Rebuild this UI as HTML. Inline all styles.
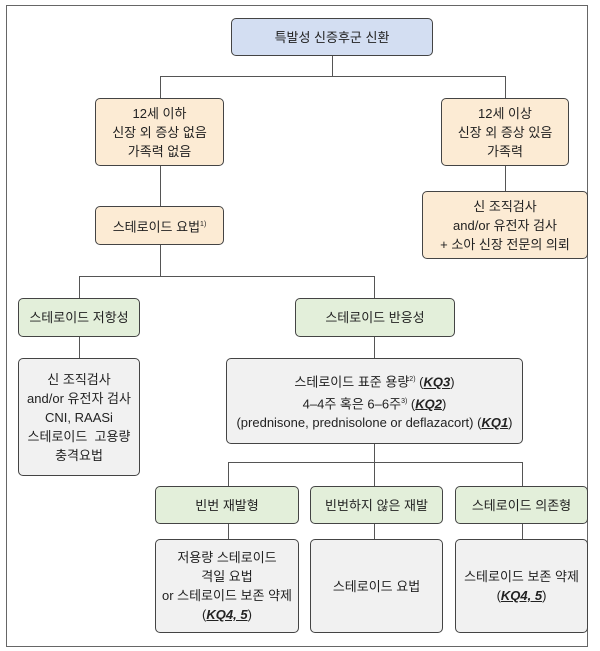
<!DOCTYPE html>
<html><head><meta charset="utf-8"><style>
body{margin:0;width:600px;height:651px;background:#fff;position:relative;font-family:"Liberation Sans","Noto Sans CJK KR",sans-serif;font-size:13px;color:#222}
.b{position:absolute;box-sizing:border-box;border:1.3px solid #444;border-radius:5px;display:flex;align-items:center;justify-content:center;text-align:center;line-height:19px}
.b>div{display:block}
.bl{background:#d3def2}.o{background:#fcebd4}.g{background:#e3efda}.y{background:#f1f1f1}
.h{position:absolute;height:1.3px;background:#555}.v{position:absolute;width:1.3px;background:#555}
u{font-style:italic;font-weight:bold}sup{font-size:7px}
</style></head><body>
<div style="position:absolute;left:6px;top:5px;width:582px;height:642px;border:1px solid #666;box-sizing:border-box"></div>
<div class="v" style="left:332px;top:56px;height:20px"></div>
<div class="h" style="left:160px;top:76px;width:346px"></div>
<div class="v" style="left:160px;top:76px;height:22px"></div>
<div class="v" style="left:505px;top:76px;height:22px"></div>
<div class="v" style="left:160px;top:166px;height:40px"></div>
<div class="v" style="left:505px;top:166px;height:25px"></div>
<div class="v" style="left:160px;top:245px;height:31px"></div>
<div class="h" style="left:79px;top:276px;width:296px"></div>
<div class="v" style="left:79px;top:276px;height:22px"></div>
<div class="v" style="left:374px;top:276px;height:22px"></div>
<div class="v" style="left:79px;top:337px;height:21px"></div>
<div class="v" style="left:374px;top:337px;height:21px"></div>
<div class="v" style="left:374px;top:444px;height:42px"></div>
<div class="h" style="left:228px;top:462px;width:295px"></div>
<div class="v" style="left:228px;top:462px;height:24px"></div>
<div class="v" style="left:522px;top:462px;height:24px"></div>
<div class="v" style="left:228px;top:524px;height:15px"></div>
<div class="v" style="left:374px;top:524px;height:15px"></div>
<div class="v" style="left:522px;top:524px;height:15px"></div>

<div class="b bl" style="left:231px;top:18px;width:202px;height:38px"><div>특발성 신증후군 신환</div></div>
<div class="b o" style="left:95px;top:98px;width:129px;height:68px"><div>12세 이하<br>신장 외 증상 없음<br>가족력 없음</div></div>
<div class="b o" style="left:441px;top:98px;width:128px;height:68px"><div>12세 이상<br>신장 외 증상 있음<br>가족력</div></div>
<div class="b o" style="left:422px;top:191px;width:166px;height:68px"><div>신 조직검사<br>and/or 유전자 검사<br>+ 소아 신장 전문의 의뢰</div></div>
<div class="b o" style="left:95px;top:206px;width:129px;height:39px"><div>스테로이드 요법<sup>1)</sup></div></div>
<div class="b g" style="left:18px;top:298px;width:122px;height:39px"><div>스테로이드 저항성</div></div>
<div class="b g" style="left:295px;top:298px;width:160px;height:39px"><div>스테로이드 반응성</div></div>
<div class="b y" style="left:18px;top:358px;width:122px;height:118px"><div>신 조직검사<br>and/or 유전자 검사<br>CNI, RAASi<br>스테로이드 &nbsp;고용량<br>충격요법</div></div>
<div class="b y" style="left:226px;top:358px;width:297px;height:86px"><div style="white-space:nowrap">스테로이드 표준 용량<sup>2)</sup> (<u>KQ3</u>)<br>4–4주 혹은 6–6주<sup>3)</sup> (<u>KQ2</u>)<br>(prednisone, prednisolone or deflazacort) (<u>KQ1</u>)</div></div>
<div class="b g" style="left:155px;top:486px;width:144px;height:38px"><div>빈번 재발형</div></div>
<div class="b g" style="left:310px;top:486px;width:133px;height:38px"><div>빈번하지 않은 재발</div></div>
<div class="b g" style="left:455px;top:486px;width:133px;height:38px"><div>스테로이드 의존형</div></div>
<div class="b y" style="left:155px;top:539px;width:144px;height:94px"><div style="white-space:nowrap">저용량 스테로이드<br>격일 요법<br>or 스테로이드 보존 약제<br>(<u>KQ4, 5</u>)</div></div>
<div class="b y" style="left:310px;top:539px;width:133px;height:94px"><div>스테로이드 요법</div></div>
<div class="b y" style="left:455px;top:539px;width:133px;height:94px"><div style="white-space:nowrap">스테로이드 보존 약제<br>(<u>KQ4, 5</u>)</div></div>
</body></html>
